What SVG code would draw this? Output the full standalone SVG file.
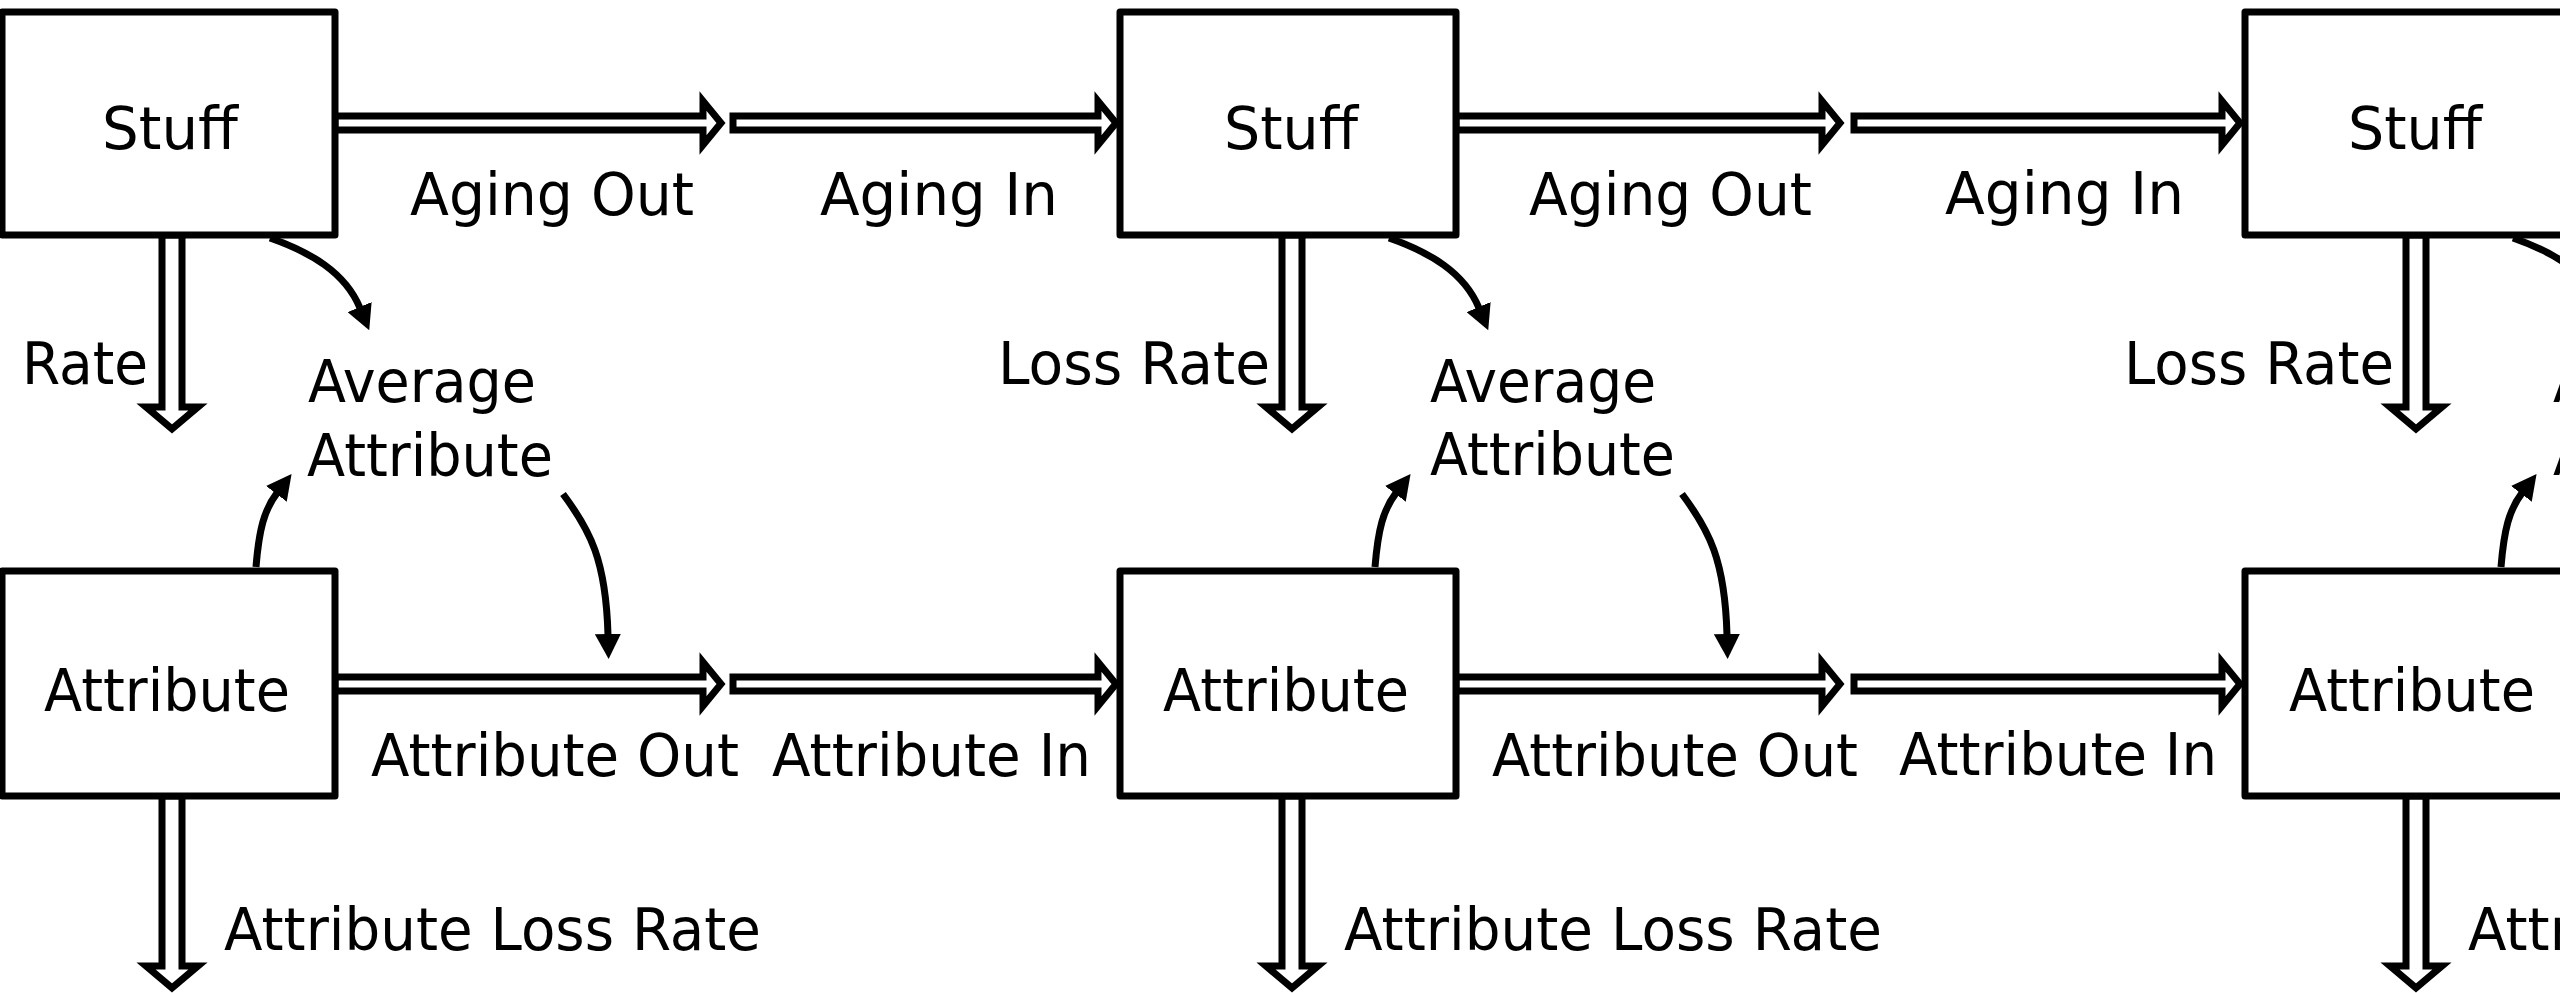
<svg xmlns="http://www.w3.org/2000/svg" width="2560" height="993" viewBox="0 0 2560 993">
<style>
.box{fill:#fff;stroke:#000;stroke-width:7;stroke-linejoin:round}
.flow{fill:#fff;stroke:#000;stroke-width:7;stroke-linejoin:miter}
.vflow{fill:#fff;stroke:#000;stroke-width:7;stroke-linejoin:miter}
.link{fill:none;stroke:#000;stroke-width:7;marker-end:url(#ah)}
text{font-family:"DejaVu Sans","Liberation Sans",sans-serif;font-size:59px;fill:#000}
</style>
<defs>
<marker id="ah" markerUnits="userSpaceOnUse" viewBox="0 0 25 26" refX="1" refY="13" markerWidth="25" markerHeight="26" orient="auto">
<path d="M0,0 L25,13 L0,26 Z" fill="#000"/>
</marker>
</defs>
<rect width="2560" height="993" fill="#fff"/>
<g id="connectors">
<path class="flow" d="M335 116 L703 116 L703 101 L721 123 L703 145 L703 130 L335 130 Z"/>
<path class="flow" d="M733 116 L1098 116 L1098 101 L1116 123 L1098 145 L1098 130 L733 130 Z"/>
<path class="flow" d="M1456 116 L1822 116 L1822 101 L1840 123 L1822 145 L1822 130 L1456 130 Z"/>
<path class="flow" d="M1854 116 L2222 116 L2222 101 L2240 123 L2222 145 L2222 130 L1854 130 Z"/>
<path class="flow" d="M335 677 L703 677 L703 662 L721 684 L703 706 L703 691 L335 691 Z"/>
<path class="flow" d="M733 677 L1098 677 L1098 662 L1116 684 L1098 706 L1098 691 L733 691 Z"/>
<path class="flow" d="M1456 677 L1822 677 L1822 662 L1840 684 L1822 706 L1822 691 L1456 691 Z"/>
<path class="flow" d="M1854 677 L2222 677 L2222 662 L2240 684 L2222 706 L2222 691 L1854 691 Z"/>
<path class="vflow" d="M162 235 L162 407 L146 407 L172 429 L198 407 L182 407 L182 235 Z"/>
<path class="vflow" d="M1282 235 L1282 407 L1266 407 L1292 429 L1318 407 L1302 407 L1302 235 Z"/>
<path class="vflow" d="M2406 235 L2406 407 L2390 407 L2416 429 L2442 407 L2426 407 L2426 235 Z"/>
<path class="vflow" d="M162 796 L162 966 L146 966 L172 988 L198 966 L182 966 L182 796 Z"/>
<path class="vflow" d="M1282 796 L1282 966 L1266 966 L1292 988 L1318 966 L1302 966 L1302 796 Z"/>
<path class="vflow" d="M2406 796 L2406 966 L2390 966 L2416 988 L2442 966 L2426 966 L2426 796 Z"/>
<path class="link" d="M270 238 C310 252 345 272 360 308"/>
<path class="link" d="M1389 238 C1429 252 1464 272 1479 308"/>
<path class="link" d="M2513 238 C2553 252 2588 272 2603 308"/>
<path class="link" d="M256 567 C259 530 264 510 277 493"/>
<path class="link" d="M1375 567 C1378 530 1383 510 1396 493"/>
<path class="link" d="M2501 567 C2504 530 2509 510 2522 493"/>
<path class="link" d="M563 494 C590 530 606 560 608 635"/>
<path class="link" d="M1682 494 C1709 530 1725 560 1727 635"/>
</g>
<g id="stuff1"><rect class="box" x="2" y="12" width="333" height="223"/><text x="102" y="149" textLength="136" lengthAdjust="spacingAndGlyphs">Stuff</text></g>
<g id="stuff2"><rect class="box" x="1120" y="12" width="336" height="223"/><text x="1224" y="149" textLength="134" lengthAdjust="spacingAndGlyphs">Stuff</text></g>
<g id="stuff3"><rect class="box" x="2245" y="12" width="336" height="223"/><text x="2348" y="149" textLength="134" lengthAdjust="spacingAndGlyphs">Stuff</text></g>
<g id="attribute1"><rect class="box" x="2" y="571" width="333" height="225"/><text x="44" y="711" textLength="246" lengthAdjust="spacingAndGlyphs">Attribute</text></g>
<g id="attribute2"><rect class="box" x="1120" y="571" width="336" height="225"/><text x="1163" y="711" textLength="246" lengthAdjust="spacingAndGlyphs">Attribute</text></g>
<g id="attribute3"><rect class="box" x="2245" y="571" width="336" height="225"/><text x="2289" y="711" textLength="246" lengthAdjust="spacingAndGlyphs">Attribute</text></g>
<g id="avg1"><text x="308" y="402" textLength="228" lengthAdjust="spacingAndGlyphs">Average</text><text x="307" y="476" textLength="246" lengthAdjust="spacingAndGlyphs">Attribute</text></g>
<g id="avg2"><text x="1430" y="402" textLength="226" lengthAdjust="spacingAndGlyphs">Average</text><text x="1430" y="475" textLength="245" lengthAdjust="spacingAndGlyphs">Attribute</text></g>
<g id="avg3"><text x="2553" y="402" textLength="228" lengthAdjust="spacingAndGlyphs">Average</text><text x="2553" y="475" textLength="246" lengthAdjust="spacingAndGlyphs">Attribute</text></g>
<g id="labels">
<text x="410" y="215" textLength="284" lengthAdjust="spacingAndGlyphs">Aging Out</text>
<text x="820" y="215" textLength="238" lengthAdjust="spacingAndGlyphs">Aging In</text>
<text x="1529" y="215" textLength="283" lengthAdjust="spacingAndGlyphs">Aging Out</text>
<text x="1945" y="214" textLength="239" lengthAdjust="spacingAndGlyphs">Aging In</text>
<text x="22" y="384" textLength="126" lengthAdjust="spacingAndGlyphs">Rate</text>
<text x="998" y="384" textLength="272" lengthAdjust="spacingAndGlyphs">Loss Rate</text>
<text x="2124" y="384" textLength="270" lengthAdjust="spacingAndGlyphs">Loss Rate</text>
<text x="371" y="776" textLength="368" lengthAdjust="spacingAndGlyphs">Attribute Out</text>
<text x="772" y="776" textLength="319" lengthAdjust="spacingAndGlyphs">Attribute In</text>
<text x="1492" y="776" textLength="366" lengthAdjust="spacingAndGlyphs">Attribute Out</text>
<text x="1899" y="775" textLength="318" lengthAdjust="spacingAndGlyphs">Attribute In</text>
<text x="224" y="950" textLength="537" lengthAdjust="spacingAndGlyphs">Attribute Loss Rate</text>
<text x="1344" y="950" textLength="538" lengthAdjust="spacingAndGlyphs">Attribute Loss Rate</text>
<text x="2468" y="950" textLength="537" lengthAdjust="spacingAndGlyphs">Attribute Loss Rate</text>
</g>
</svg>
